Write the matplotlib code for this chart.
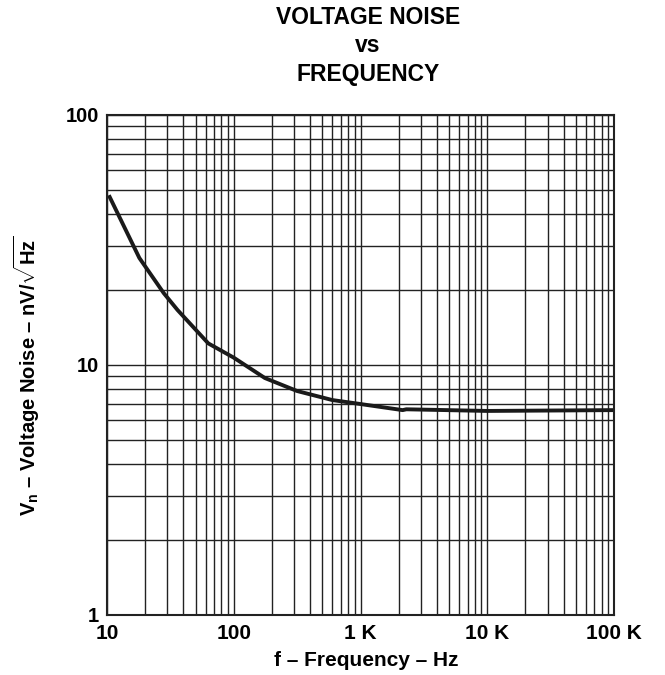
import matplotlib
matplotlib.use("Agg")
import matplotlib.pyplot as plt
from matplotlib.ticker import LogLocator, NullFormatter

plt.rcParams['font.family'] = ['Liberation Sans', 'DejaVu Sans']
plt.rcParams['font.weight'] = 'bold'
plt.rcParams['mathtext.fontset'] = 'custom'
plt.rcParams['mathtext.rm'] = 'Liberation Sans:bold'
plt.rcParams['mathtext.bf'] = 'Liberation Sans:bold'
plt.rcParams['mathtext.it'] = 'Liberation Sans:bold'

freq = [10.5, 18, 28, 36, 63, 100, 176, 316, 600, 1000, 2150, 2300, 10000, 100000]
noise = [47, 26.8, 19.4, 16.6, 12.2, 10.7, 8.87, 7.87, 7.24, 6.98, 6.6, 6.65, 6.55, 6.6]

x_ticks = [10, 100, 1000, 10000, 100000]
x_labels = ['10', '100', '1 K', '10 K', '100 K']
y_ticks = [1, 10, 100]
y_labels = ['1', '10', '100']

W, H = 665, 675
fig = plt.figure(figsize=(W / 100, H / 100), dpi=100)
ax = fig.add_axes([107 / W, 1 - 615 / H, 507 / W, 500 / H])
ax.set_xscale('log')
ax.set_yscale('log')
ax.set_xlim(10, 100000)
ax.set_ylim(1, 100)

ax.plot(freq, noise, color='#1a1a1a', lw=2.8, solid_joinstyle='round')

ax.set_xticks(x_ticks)
ax.set_xticklabels(x_labels)
ax.set_yticks(y_ticks)
ax.set_yticklabels(y_labels)
ax.xaxis.set_minor_locator(LogLocator(base=10, subs=range(2, 10)))
ax.yaxis.set_minor_locator(LogLocator(base=10, subs=range(2, 10)))
ax.xaxis.set_minor_formatter(NullFormatter())
ax.yaxis.set_minor_formatter(NullFormatter())
ax.grid(True, which='both', color='#222222', lw=1.0)
ax.tick_params(which='both', length=0)
ax.tick_params(axis='x', pad=6.5, labelsize=15)
ax.tick_params(axis='y', pad=5.5, labelsize=14.5)
for lab in ax.get_xticklabels() + ax.get_yticklabels():
    lab.set_fontweight('bold')
for s in ax.spines.values():
    s.set_linewidth(1.5)
    s.set_color('#222222')

fig.text(366 / W, 1 - 661 / H, 'f – Frequency – Hz', ha='center', va='center',
         fontsize=15, fontweight='bold')
fig.text(27 / W, 1 - 376 / H,
         r'$\mathbf{V_n}$ – Voltage Noise – nV/$\sqrt{\mathbf{Hz}}$',
         ha='center', va='center', rotation=90, fontsize=14.5, fontweight='bold')

fig.text(368 / W, 1 - 17 / H, 'VOLTAGE NOISE', ha='center', va='center', fontsize=16.5, fontweight='bold')
fig.text(368 / W, 1 - 46 / H, 'vs', ha='center', va='center', fontsize=16.5, fontweight='bold')
fig.text(368 / W, 1 - 74 / H, 'FREQUENCY', ha='center', va='center', fontsize=16.5, fontweight='bold')

fig.savefig('out.png', dpi=100)
